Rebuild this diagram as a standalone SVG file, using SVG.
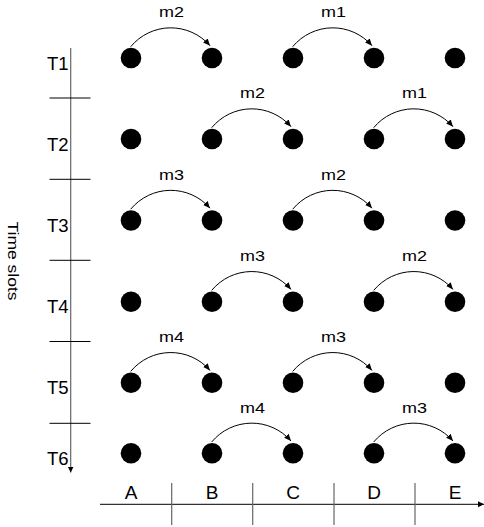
<svg xmlns="http://www.w3.org/2000/svg" width="484" height="527" viewBox="0 0 484 527">
<style>
  .dot { fill: #000; }
  .arc { fill: none; stroke: #000; stroke-width: 1; marker-end: url(#ah); }
  .lbl { font-family: "Liberation Sans", Arial, sans-serif; font-size: 14.5px; fill: #000; text-anchor: middle; }
  .tl { font-family: "Liberation Sans", Arial, sans-serif; font-size: 18.5px; fill: #000; }
  .col { font-family: "Liberation Sans", Arial, sans-serif; font-size: 19px; fill: #000; text-anchor: middle; }
  .axis { stroke: #666; stroke-width: 1.2; fill: none; }
  .sep { stroke: #000; stroke-width: 1; }
</style>
<defs>
  <marker id="ah" markerUnits="userSpaceOnUse" markerWidth="10" markerHeight="10" refX="7" refY="3" orient="auto">
    <path d="M0,0 L7,3 L0,6 z" fill="#000"/>
  </marker>
  <marker id="axh" markerUnits="userSpaceOnUse" markerWidth="10" markerHeight="10" refX="6" refY="3" orient="auto">
    <path d="M0,0 L6,3 L0,6 z" fill="#000"/>
  </marker>
</defs>
<rect width="484" height="527" fill="#fff"/>

<g id="time-axis">
  <line class="axis" x1="70.7" y1="48" x2="70.7" y2="472.5" marker-end="url(#axh)"/>
  <line class="sep" x1="49.5" y1="98" x2="90.5" y2="98"/>
  <line class="sep" x1="49.5" y1="179.3" x2="90.5" y2="179.3"/>
  <line class="sep" x1="49.5" y1="260.3" x2="90.5" y2="260.3"/>
  <line class="sep" x1="49.5" y1="341.5" x2="90.5" y2="341.5"/>
  <line class="sep" x1="49.5" y1="423.3" x2="90.5" y2="423.3"/>
  <text class="tl" x="47" y="69.5">T1</text>
  <text class="tl" x="47" y="150.5">T2</text>
  <text class="tl" x="47" y="232">T3</text>
  <text class="tl" x="47" y="313">T4</text>
  <text class="tl" x="47" y="394">T5</text>
  <text class="tl" x="47" y="465">T6</text>
  <text transform="translate(8.3,221.5) rotate(90)" x="0" y="0" font-family="Liberation Sans, Arial, sans-serif" font-size="14" textLength="79" lengthAdjust="spacingAndGlyphs">Time slots</text>
</g>

<g id="node-axis">
  <line stroke="#000" stroke-width="1" x1="100" y1="504.3" x2="484" y2="504.3" marker-end="url(#axh)"/>
  <line class="axis" x1="171.7" y1="483" x2="171.7" y2="525"/>
  <line class="axis" x1="252.7" y1="483" x2="252.7" y2="525"/>
  <line class="axis" x1="334" y1="483" x2="334" y2="525"/>
  <line class="axis" x1="415" y1="483" x2="415" y2="525"/>
  <text class="col" x="131" y="499">A</text>
  <text class="col" x="212" y="499">B</text>
  <text class="col" x="293" y="499">C</text>
  <text class="col" x="374" y="499">D</text>
  <text class="col" x="455" y="499">E</text>
</g>

<g id="nodes">
  <g id="row-T1">
    <circle class="dot" cx="131" cy="58" r="10.3"/><circle class="dot" cx="212" cy="58" r="10.3"/><circle class="dot" cx="293" cy="58" r="10.3"/><circle class="dot" cx="374" cy="58" r="10.3"/><circle class="dot" cx="455" cy="58" r="10.3"/>
  </g>
  <g id="row-T2">
    <circle class="dot" cx="131" cy="139" r="10.3"/><circle class="dot" cx="212" cy="139" r="10.3"/><circle class="dot" cx="293" cy="139" r="10.3"/><circle class="dot" cx="374" cy="139" r="10.3"/><circle class="dot" cx="455" cy="139" r="10.3"/>
  </g>
  <g id="row-T3">
    <circle class="dot" cx="131" cy="220.5" r="10.3"/><circle class="dot" cx="212" cy="220.5" r="10.3"/><circle class="dot" cx="293" cy="220.5" r="10.3"/><circle class="dot" cx="374" cy="220.5" r="10.3"/><circle class="dot" cx="455" cy="220.5" r="10.3"/>
  </g>
  <g id="row-T4">
    <circle class="dot" cx="131" cy="301.7" r="10.3"/><circle class="dot" cx="212" cy="301.7" r="10.3"/><circle class="dot" cx="293" cy="301.7" r="10.3"/><circle class="dot" cx="374" cy="301.7" r="10.3"/><circle class="dot" cx="455" cy="301.7" r="10.3"/>
  </g>
  <g id="row-T5">
    <circle class="dot" cx="131" cy="382.7" r="10.3"/><circle class="dot" cx="212" cy="382.7" r="10.3"/><circle class="dot" cx="293" cy="382.7" r="10.3"/><circle class="dot" cx="374" cy="382.7" r="10.3"/><circle class="dot" cx="455" cy="382.7" r="10.3"/>
  </g>
  <g id="row-T6">
    <circle class="dot" cx="131" cy="453.3" r="10.3"/><circle class="dot" cx="212" cy="453.3" r="10.3"/><circle class="dot" cx="293" cy="453.3" r="10.3"/><circle class="dot" cx="374" cy="453.3" r="10.3"/><circle class="dot" cx="455" cy="453.3" r="10.3"/>
  </g>
</g>

<g id="connectors">
  <!-- T1 -->
  <path class="arc" d="M130.7,46.7 A52,52 0 0 1 210,45.7"/>
  <path class="arc" d="M292.7,46.7 A52,52 0 0 1 372,45.7"/>
  <!-- T2 -->
  <path class="arc" d="M211.7,127.7 A52,52 0 0 1 291,126.7"/>
  <path class="arc" d="M373.7,127.7 A52,52 0 0 1 453,126.7"/>
  <!-- T3 -->
  <path class="arc" d="M130.7,209.2 A52,52 0 0 1 210,208.2"/>
  <path class="arc" d="M292.7,209.2 A52,52 0 0 1 372,208.2"/>
  <!-- T4 -->
  <path class="arc" d="M211.7,290.4 A52,52 0 0 1 291,289.4"/>
  <path class="arc" d="M373.7,290.4 A52,52 0 0 1 453,289.4"/>
  <!-- T5 -->
  <path class="arc" d="M130.7,371.4 A52,52 0 0 1 210,370.4"/>
  <path class="arc" d="M292.7,371.4 A52,52 0 0 1 372,370.4"/>
  <!-- T6 -->
  <path class="arc" d="M211.7,442 A52,52 0 0 1 291,441"/>
  <path class="arc" d="M373.7,442 A52,52 0 0 1 453,441"/>
</g>

<g id="labels">
  <text class="lbl" x="171.5" y="17.3" textLength="25" lengthAdjust="spacingAndGlyphs">m2</text>
  <text class="lbl" x="333.5" y="17.3" textLength="25" lengthAdjust="spacingAndGlyphs">m1</text>
  <text class="lbl" x="252.5" y="98.3" textLength="25" lengthAdjust="spacingAndGlyphs">m2</text>
  <text class="lbl" x="414.5" y="98.3" textLength="25" lengthAdjust="spacingAndGlyphs">m1</text>
  <text class="lbl" x="171.5" y="179.8" textLength="25" lengthAdjust="spacingAndGlyphs">m3</text>
  <text class="lbl" x="333.5" y="179.8" textLength="25" lengthAdjust="spacingAndGlyphs">m2</text>
  <text class="lbl" x="252.5" y="261" textLength="25" lengthAdjust="spacingAndGlyphs">m3</text>
  <text class="lbl" x="414.5" y="261" textLength="25" lengthAdjust="spacingAndGlyphs">m2</text>
  <text class="lbl" x="171.5" y="342" textLength="25" lengthAdjust="spacingAndGlyphs">m4</text>
  <text class="lbl" x="333.5" y="342" textLength="25" lengthAdjust="spacingAndGlyphs">m3</text>
  <text class="lbl" x="252.5" y="413" textLength="25" lengthAdjust="spacingAndGlyphs">m4</text>
  <text class="lbl" x="414.5" y="413" textLength="25" lengthAdjust="spacingAndGlyphs">m3</text>
</g>
</svg>
